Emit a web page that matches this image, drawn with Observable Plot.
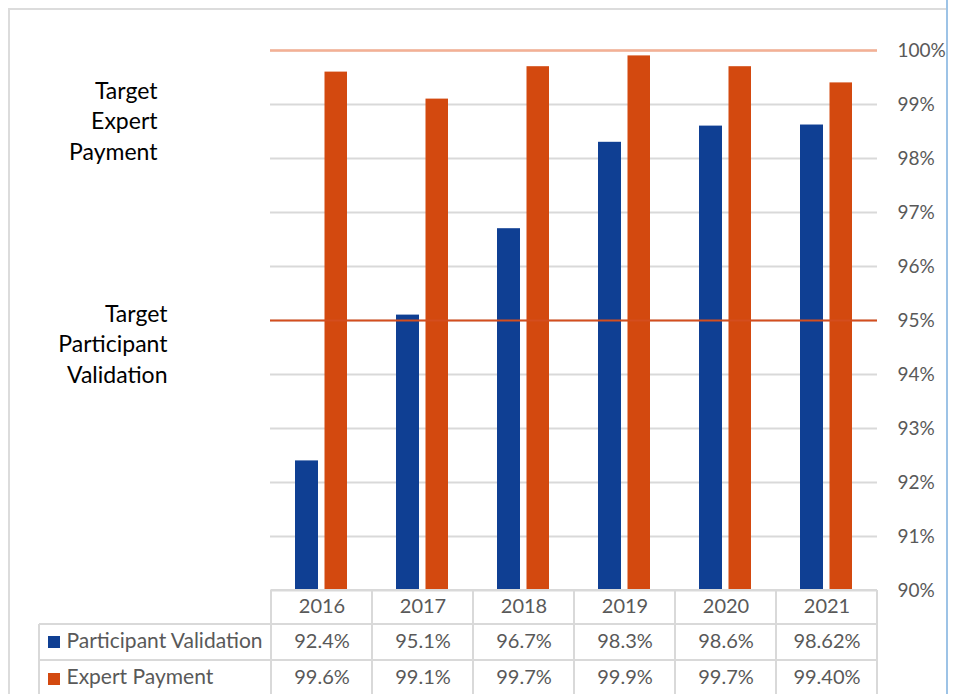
<!DOCTYPE html>
<html><head><meta charset="utf-8">
<script src="https://cdn.jsdelivr.net/npm/d3@7"></script>
<script src="https://cdn.jsdelivr.net/npm/@observablehq/plot@0.6"></script>
<style>
html,body{margin:0;padding:0;background:#fff;overflow:hidden}
#wrap{position:relative;width:954px;height:694px}
#wrap svg{position:absolute;left:0;top:0}
.deco{position:absolute}
#frameTop{left:8px;top:8px;width:938px;height:2px;background:#dcdcdc}
#frameLeft{left:8px;top:8px;width:2px;height:686px;background:#dcdcdc}
#blueLine{left:946px;top:0;width:2px;height:694px;background:#9dc3e6}
</style></head><body><div id="wrap"></div>
<script>
const years = ["2016", "2017", "2018", "2019", "2020", "2021"];
const participantValidation = [92.4, 95.1, 96.7, 98.3, 98.6, 98.62];
const expertPayment = [99.6, 99.1, 99.7, 99.9, 99.7, 99.4];
const participantLabels = ["92.4%", "95.1%", "96.7%", "98.3%", "98.6%", "98.62%"];
const expertLabels = ["99.6%", "99.1%", "99.7%", "99.9%", "99.7%", "99.40%"];
const seriesNames = ["Participant Validation", "Expert Payment"];
const targetNames = ["Target\nExpert\nPayment", "Target\nParticipant\nValidation"];
const targetValues = [100, 95];
const yTicks = [90, 91, 92, 93, 94, 95, 96, 97, 98, 99, 100];

const BLUE = "#0f3f93", ORANGE = "#d3490f", GRID = "#d9d9d9", TXT = "#595959";

const pvData = years.map((year, i) => ({year, value: participantValidation[i]}));
const epData = years.map((year, i) => ({year, value: expertPayment[i]}));

function tableGrid(index, scales, values, dims) {
  const x = scales.x;
  const step = x(years[1]) - x(years[0]);
  const right = x(years[years.length - 1]) + step;
  const left = x(years[0]);
  const top = dims.height - dims.marginBottom;
  const bottom = dims.height;
  const labelLeft = 39;
  const g = d3.create("svg:g");
  const lines = g.append("g").attr("stroke", GRID).attr("stroke-width", 2);
  const ln = (x1, y1, x2, y2) => lines.append("line").attr("x1", x1).attr("y1", y1).attr("x2", x2).attr("y2", y2);
  ln(left, top, right, top);
  ln(labelLeft, top + 34, right, top + 34);
  ln(labelLeft, top + 70, right, top + 70);
  ln(labelLeft, top + 34, labelLeft, bottom);
  years.forEach(yr => ln(x(yr), top, x(yr), bottom));
  ln(right, top, right, bottom);
  [BLUE, ORANGE].forEach((c, i) => {
    g.append("rect").attr("x", 48).attr("y", top + 46 + i * 37).attr("width", 12).attr("height", 12).attr("fill", c);
  });
  return g.node();
}

const chart = Plot.plot({
  width: 954,
  height: 694,
  marginLeft: 270,
  marginRight: 77,
  marginTop: 50,
  marginBottom: 104,
  style: {background: "transparent", fontFamily: "Lato, sans-serif"},
  x: {domain: years, padding: 0, axis: null},
  y: {domain: [90, 100], axis: null},
  marks: [
    Plot.gridY(yTicks, {stroke: GRID, strokeOpacity: 1, strokeWidth: 2}),
    Plot.barY(pvData, {x: "year", y1: 90, y2: "value", fill: BLUE, insetLeft: 24, insetRight: 54}),
    Plot.barY(epData, {x: "year", y1: 90, y2: "value", fill: ORANGE, insetLeft: 53.5, insetRight: 25}),
    Plot.ruleY([targetValues[0]], {stroke: "#f4b095", strokeWidth: 2.5}),
    Plot.ruleY([targetValues[1]], {stroke: "#d44e1e", strokeWidth: 2}),
    Plot.axisY(yTicks, {anchor: "right", tickSize: 0, tickPadding: 20, tickFormat: d => d + "%", fontSize: 19, fill: TXT, label: null}),
    Plot.text([targetNames[0]], {y: () => targetValues[0], text: d => d, frameAnchor: "left", dx: -113, dy: 69, textAnchor: "end", lineHeight: 1.33, fontSize: 23, fill: "#000"}),
    Plot.text([targetNames[1]], {y: () => targetValues[1], text: d => d, frameAnchor: "left", dx: -103, dy: 22, textAnchor: "end", lineHeight: 1.33, fontSize: 23, fill: "#000"}),
    tableGrid,
    Plot.text(years, {x: d => d, text: d => d, frameAnchor: "bottom", dy: 22, fill: TXT, fontSize: 20}),
    Plot.text(participantLabels, {x: (d, i) => years[i], text: d => d, frameAnchor: "bottom", dy: 57, fill: TXT, fontSize: 20}),
    Plot.text(expertLabels, {x: (d, i) => years[i], text: d => d, frameAnchor: "bottom", dy: 93, fill: TXT, fontSize: 20}),
    Plot.text([seriesNames[0]], {text: d => d, frameAnchor: "bottom-left", dx: -204, dy: 57, textAnchor: "start", fill: TXT, fontSize: 21}),
    Plot.text([seriesNames[1]], {text: d => d, frameAnchor: "bottom-left", dx: -204, dy: 93, textAnchor: "start", fill: TXT, fontSize: 21})
  ]
});
const wrap = document.getElementById("wrap");
wrap.appendChild(chart);
for (const id of ["frameTop", "frameLeft", "blueLine"]) {
  const d = document.createElement("div");
  d.className = "deco"; d.id = id;
  wrap.appendChild(d);
}
</script></body></html>
